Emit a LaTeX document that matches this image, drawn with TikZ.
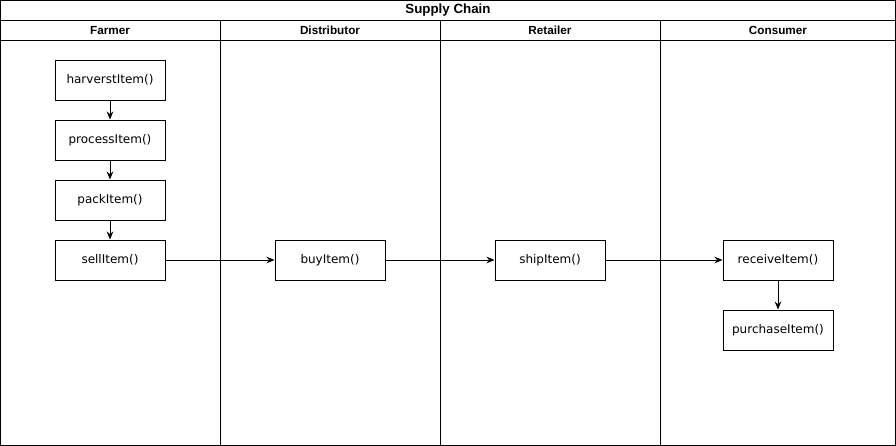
\documentclass[tikz,border=0pt]{standalone}
\usepackage{fontspec}
\setmainfont{DejaVu Sans}
\newfontfamily\headfont{Liberation Sans}
\usetikzlibrary{arrows.meta}
\tikzset{
 fnbox/.style={draw,line width=0.75pt,minimum width=82.5pt,minimum height=30pt,inner sep=0pt,font=\fontsize{9}{10}\selectfont},
 lanehead/.style={font=\headfont\bfseries\fontsize{8.8}{10}\selectfont},
 poolhead/.style={font=\headfont\bfseries\fontsize{10}{12}\selectfont}
}
\begin{document}
\begin{tikzpicture}[x=0.75pt,y=-0.75pt,>={Stealth[length=6pt,width=5pt]}]
 \useasboundingbox (0,0) rectangle (896,446);
 % pool and lanes
 \draw[line width=0.75pt] (0.5,0.5) rectangle (895.5,445.5);
 \draw[line width=0.75pt] (0.5,20) -- (895.5,20);
 \draw[line width=0.75pt] (0.5,40) -- (895.5,40);
 \foreach \xx in {220,440,660}
  \draw[line width=0.75pt] (\xx,20) -- (\xx,445.5);
 \node[poolhead] (pool) at (448,10.5) {Supply Chain};
 \node[lanehead] (farmer) at (110,30.5) {Farmer};
 \node[lanehead] (distributor) at (330,30.5) {Distributor};
 \node[lanehead] (retailer) at (550,30.5) {Retailer};
 \node[lanehead] (consumer) at (778,30.5) {Consumer};
 % steps
 \node[fnbox] (harvest) at (110,80) {harverstItem()};
 \node[fnbox] (process) at (110,140) {processItem()};
 \node[fnbox] (pack) at (110,200) {packItem()};
 \node[fnbox] (sell) at (110,260) {sellItem()};
 \node[fnbox] (buy) at (330,260) {buyItem()};
 \node[fnbox] (ship) at (550,260) {shipItem()};
 \node[fnbox] (receive) at (778,260) {receiveItem()};
 \node[fnbox] (purchase) at (778,330) {purchaseItem()};
 % flow
 \draw[line width=0.75pt,->] (harvest) -- (process);
 \draw[line width=0.75pt,->] (process) -- (pack);
 \draw[line width=0.75pt,->] (pack) -- (sell);
 \draw[line width=0.75pt,->] (sell) -- (buy);
 \draw[line width=0.75pt,->] (buy) -- (ship);
 \draw[line width=0.75pt,->] (ship) -- (receive);
 \draw[line width=0.75pt,->] (receive) -- (purchase);
\end{tikzpicture}
\end{document}
